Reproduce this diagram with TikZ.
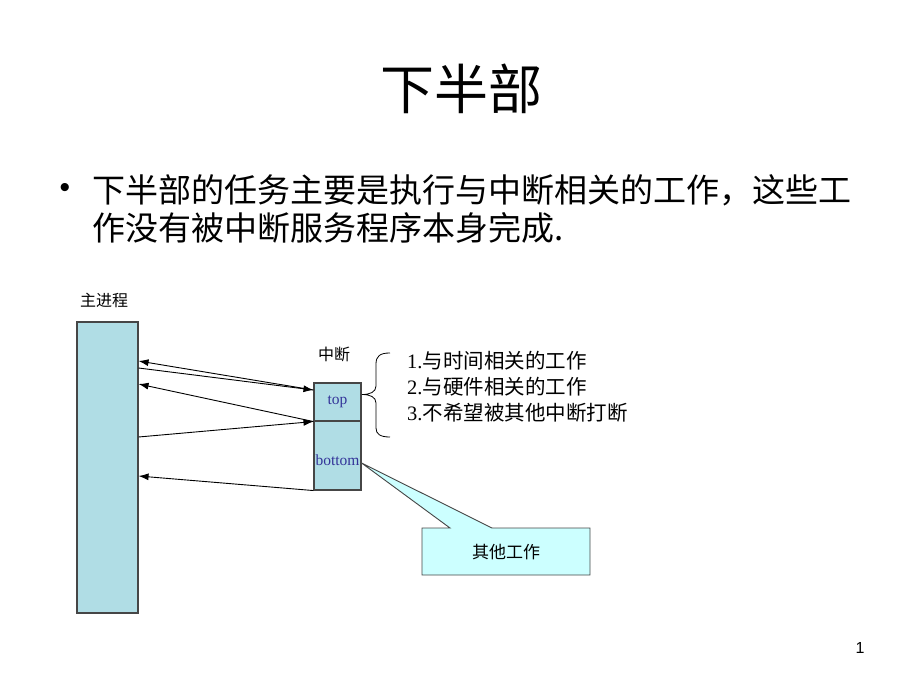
\documentclass[tikz,border=0pt]{standalone}
\usepackage{fontspec}
\setmainfont{Liberation Serif}
\newfontfamily\cjk{Noto Sans CJK SC}
\newfontfamily\sansf{Liberation Sans}
\usetikzlibrary{arrows.meta,calc}
\definecolor{boxfill}{RGB}{176,221,229}
\definecolor{callfill}{RGB}{204,255,255}
\definecolor{edgegray}{RGB}{70,70,70}
\definecolor{labblue}{RGB}{51,51,153}
\begin{document}
\begin{tikzpicture}[x=1pt,y=-1pt,
  blk/.style={draw=edgegray,line width=1.1pt,fill=boxfill,inner sep=0pt},
  conn/.style={line width=0.9pt,-{Latex[length=10pt,width=7pt]}},
  small/.style={font=\cjk\fontsize{16}{18}\selectfont,inner sep=0pt},
  lbl/.style={font=\fontsize{15.5}{17}\selectfont,text=labblue,inner sep=0pt},
  item/.style={anchor=west,inner sep=0pt,font=\fontsize{20.5}{24}\selectfont}]
\useasboundingbox (0,0) rectangle (920,690);

% title and bullet text
\node[inner sep=0pt,font=\cjk\fontsize{54}{60}\selectfont] (title) at (461,89) {下半部};
\node[inner sep=0pt,font=\sansf\fontsize{30}{32}\selectfont] (bul) at (65,190) {•};
\node[anchor=west,inner sep=0pt,font=\cjk\fontsize{33}{36}\selectfont] (l1) at (92,190) {下半部的任务主要是执行与中断相关的工作，这些工};
\node[anchor=west,inner sep=0pt,font=\cjk\fontsize{33}{36}\selectfont] (l2) at (92,228) {作没有被中断服务程序本身完成.};

% main process
\node[small] (mainlbl) at (104,300) {主进程};
\node[blk,minimum width=61pt,minimum height=291pt] (main) at (107.5,467.5) {};

% interrupt boxes
\node[small] (intlbl) at (334,354) {中断};
\node[blk,minimum width=47pt,minimum height=38pt] (top) at (337.5,402) {};
\node[blk,minimum width=47pt,minimum height=69pt] (bot) at (337.5,455.5) {};
\node[lbl] (toptxt) at (337.5,402) {top};
\node[lbl] (bottxt) at (337.5,460) {bottom};

% connector end points
\coordinate (m1) at (main.east |- 0,361);
\coordinate (m2) at (main.east |- 0,368);
\coordinate (m3) at (main.east |- 0,384);
\coordinate (m4) at (main.east |- 0,437);
\coordinate (m5) at (main.east |- 0,476);
\coordinate (t1) at (top.west |- 0,390);
\coordinate (t2) at (top.south west);
\coordinate (b1) at (bot.south west);

\draw[conn] (t1) -- (m1);
\draw[conn] (m2) -- (t1);
\draw[conn] (t2) -- (m3);
\draw[conn] (m4) -- (t2);
\draw[conn] (b1) -- (m5);

% brace
\draw[line width=0.8pt] (390,353) .. controls (380,353) and (376,356) .. (376,364) -- (376,386)
  .. controls (376,392) and (370,394.5) .. (362,394.5)
  .. controls (370,394.5) and (376,397) .. (376,403) -- (376,428)
  .. controls (376,434) and (380,437) .. (390,437);

\node[item] (i1) at (407,361) {1.{\cjk 与时间相关的工作}};
\node[item] (i2) at (407,387) {2.{\cjk 与硬件相关的工作}};
\node[item] (i3) at (407,413) {3.{\cjk 不希望被其他中断打断}};

% callout
\coordinate (tip) at (bot.east |- 0,463);
\draw[draw=edgegray,line width=0.9pt,fill=callfill]
  (422,528) -- (450,528) -- (tip) -- (492,528) -- (590,528) -- (590,575) -- (422,575) -- cycle;
\node[small,font=\cjk\fontsize{17}{19}\selectfont] (other) at (506,552) {其他工作};

% page number
\node[inner sep=0pt,font=\sansf\fontsize{16}{18}\selectfont] (pg) at (860,648) {1};
\end{tikzpicture}
\end{document}
